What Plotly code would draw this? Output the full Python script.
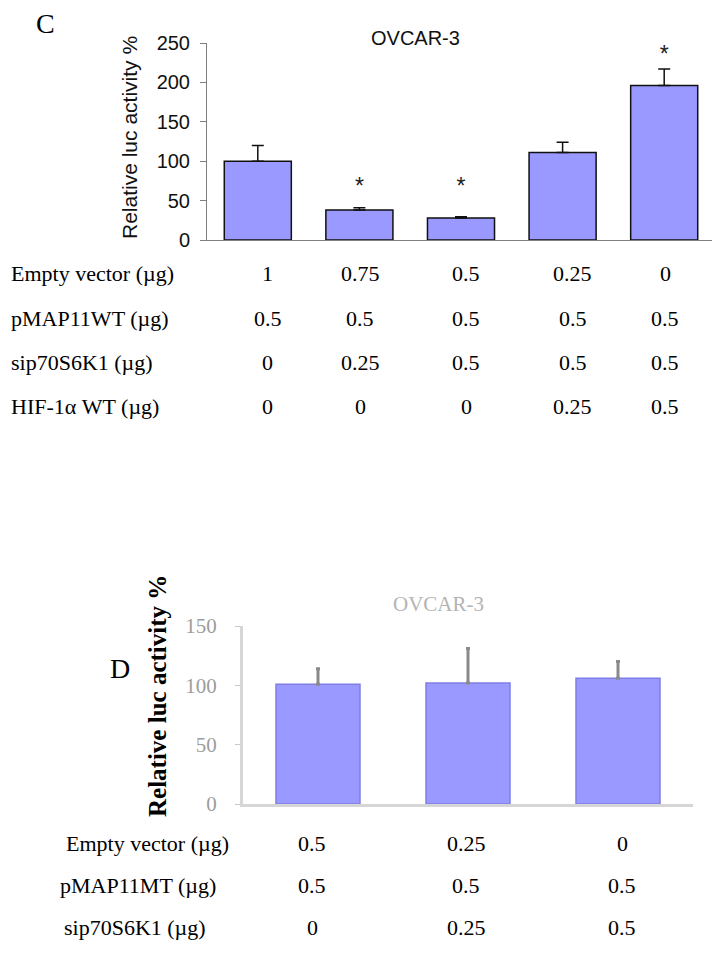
import plotly.graph_objects as go

# ---------------- data ----------------
# Panel C
c_groups = ["g1", "g2", "g3", "g4", "g5"]
c_values = [100, 38, 28, 111, 196]
c_errors = [20, 3, 1.5, 13, 21]
c_star_y = [None, 66, 66, None, 233]
c_yticks = [0, 50, 100, 150, 200, 250]
c_row_labels = ["Empty vector (\u00b5g)", "pMAP11WT (\u00b5g)", "sip70S6K1 (\u00b5g)", "HIF-1\u03b1 WT (\u00b5g)"]
c_table = [
    ["1", "0.75", "0.5", "0.25", "0"],
    ["0.5", "0.5", "0.5", "0.5", "0.5"],
    ["0", "0.25", "0.5", "0.5", "0.5"],
    ["0", "0", "0", "0.25", "0.5"],
]

# Panel D
d_groups = ["h1", "h2", "h3"]
d_values = [101, 102, 106]
d_errors = [13, 29, 14]
d_yticks = [0, 50, 100, 150]
d_row_labels = ["Empty vector (\u00b5g)", "pMAP11MT (\u00b5g)", "sip70S6K1 (\u00b5g)"]
d_table = [
    ["0.5", "0.25", "0"],
    ["0.5", "0.5", "0.5"],
    ["0", "0.25", "0.5"],
]

W, H = 720, 963
OFF = 8  # page body margin
def px(x):
    return (x - OFF) / W
def py(y):
    return 1 - (y - OFF) / H

BAR = "#9999ff"
fig = go.Figure()

# ---- Panel C bars ----
fig.add_trace(go.Bar(
    x=c_groups, y=c_values, width=0.66,
    marker=dict(color=BAR, line=dict(color="#111111", width=1.5)),
    error_y=dict(type="data", array=c_errors, arrayminus=[0] * len(c_errors),
                 symmetric=False, color="#111111", thickness=1.5, width=6),
    xaxis="x", yaxis="y", showlegend=False,
))
fig.add_trace(go.Scatter(
    x=c_groups, y=c_star_y, mode="text", text=["*" if v is not None else "" for v in c_star_y],
    textfont=dict(family="Arial, Liberation Sans", size=23, color="#222222"),
    textposition="middle center", xaxis="x", yaxis="y", showlegend=False,
))

# ---- Panel D bars ----
fig.add_trace(go.Bar(
    x=d_groups, y=d_values, width=0.56,
    marker=dict(color=BAR, line=dict(color="#7f7fe6", width=1.5)),
    error_y=dict(type="data", array=d_errors, arrayminus=[0] * len(d_errors),
                 symmetric=False, color="#8a8a8a", thickness=3, width=2),
    xaxis="x2", yaxis="y2", showlegend=False,
))

fig.update_layout(
    template="none",
    width=W, height=H, margin=dict(l=0, r=0, t=0, b=0, autoexpand=False),
    paper_bgcolor="white", plot_bgcolor="white",
    xaxis=dict(domain=[px(207), px(715)], range=[-0.5, 4.5], showticklabels=False,
               showline=True, linecolor="#808080", linewidth=1, ticks="",
               showgrid=False, zeroline=False, anchor="y", automargin=False),
    yaxis=dict(domain=[py(240), py(43)], range=[0, 250], tickvals=c_yticks,
               ticks="outside", ticklen=6, tickcolor="#808080", tickwidth=1,
               showline=True, linecolor="#808080", linewidth=1,
               tickfont=dict(family="Arial, Liberation Sans", size=20, color="#111111"),
               ticklabelstandoff=6, automargin=False,
               showgrid=False, zeroline=False, anchor="x"),
    xaxis2=dict(domain=[px(243), px(693)], range=[-0.5, 2.5], showticklabels=False,
                showline=True, linecolor="#d6d6d6", linewidth=3, ticks="",
                showgrid=False, zeroline=False, anchor="y2", automargin=False),
    yaxis2=dict(domain=[py(804), py(626)], range=[0, 150], tickvals=d_yticks,
                ticks="outside", ticklen=5, tickcolor="#c8c8c8", tickwidth=1,
                showline=True, linecolor="#d6d6d6", linewidth=3,
                tickfont=dict(family="Liberation Serif, Times New Roman", size=21, color="#9c9c9c"),
                ticklabelstandoff=14, automargin=False,
                showgrid=False, zeroline=False, anchor="x2"),
)

def note(text, x, y, font, xref="paper", xanchor="center", xshift=0, textangle=0):
    return dict(text=text, x=x, y=y, xref=xref, yref="paper", showarrow=False,
                xanchor=xanchor, yanchor="middle", xshift=xshift, textangle=textangle, font=font)

ann = []
letter_font = dict(family="Liberation Serif, Times New Roman", size=28, color="black")
ann.append(note("C", px(45), py(23), letter_font))
ann.append(note("D", px(120), py(668), letter_font))
ann.append(note("OVCAR-3", px(415), py(38),
                dict(family="Arial, Liberation Sans", size=20, color="#111111")))
ann.append(note("OVCAR-3", px(438), py(604),
                dict(family="Liberation Serif, Times New Roman", size=21, color="#b4b4b4")))
ann.append(note("Relative luc activity %", px(130), py(138),
                dict(family="Arial, Liberation Sans", size=21, color="#111111"), textangle=-90))
ann.append(note("<b>Relative luc activity %</b>", px(157), py(696),
                dict(family="Liberation Serif, Times New Roman", size=25, color="black"), textangle=-90))

serif = dict(family="Liberation Serif, Times New Roman", size=22, color="black")
# Panel C table
c_rows_y = [273, 318, 362, 406]
c_col_shift = [10, 1, 5, 10, 1]
for r, label in enumerate(c_row_labels):
    ann.append(note(label, px(9), py(c_rows_y[r]), serif, xanchor="left"))
    for ci, val in enumerate(c_table[r]):
        ann.append(note(val, c_groups[ci], py(c_rows_y[r]), serif, xref="x", xshift=c_col_shift[ci]))

# Panel D table
d_rows_y = [843, 885, 927]
d_label_x = [147, 138, 135]
d_col_shift = [-6, -2, 4]
for r, label in enumerate(d_row_labels):
    ann.append(note(label, px(d_label_x[r]), py(d_rows_y[r]), serif))
    for ci, val in enumerate(d_table[r]):
        ann.append(note(val, d_groups[ci], py(d_rows_y[r]), serif, xref="x2", xshift=d_col_shift[ci]))

fig.update_layout(annotations=ann)
fig.write_html("out.html")
